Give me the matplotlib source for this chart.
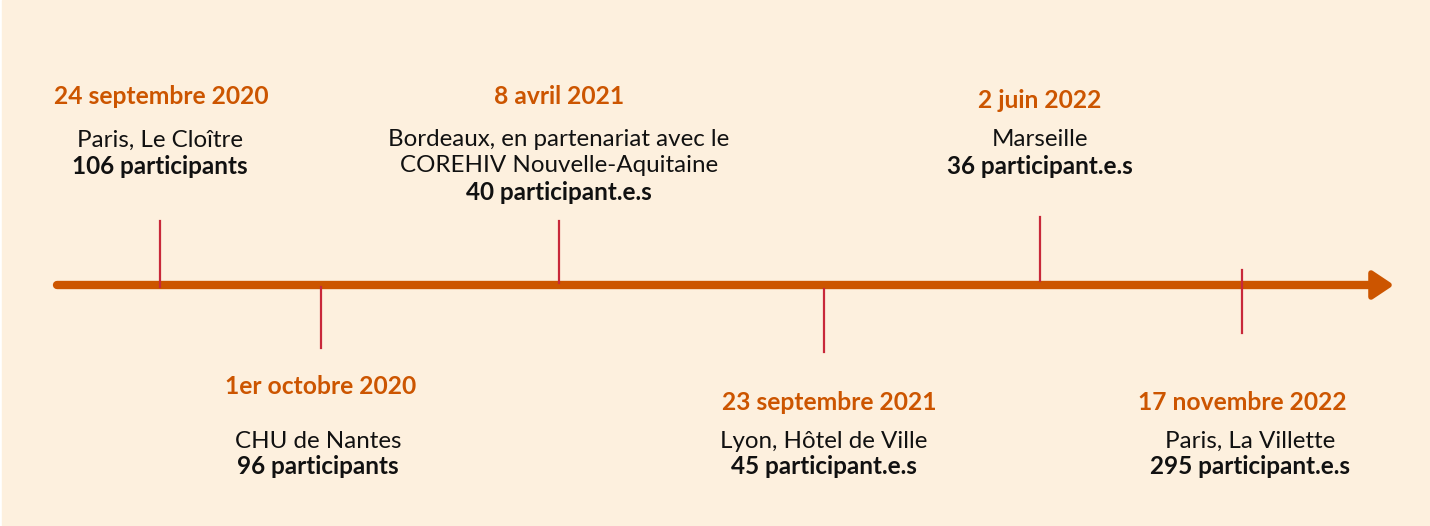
import matplotlib.pyplot as plt
from matplotlib.patches import Polygon, Rectangle

# Events of the timeline
dates = ['24 septembre 2020', '1er octobre 2020', '8 avril 2021',
         '23 septembre 2021', '2 juin 2022', '17 novembre 2022']
places = ['Paris, Le Cloître', 'CHU de Nantes',
          'Bordeaux, en partenariat avec le\nCOREHIV Nouvelle-Aquitaine',
          'Lyon, Hôtel de Ville', 'Marseille', 'Paris, La Villette']
participants = ['106 participants', '96 participants', '40 participant.e.s',
                '45 participant.e.s', '36 participant.e.s', '295 participant.e.s']

# layout (pixels)
x_pos = [160, 321, 559, 824, 1040, 1242]
tick_top = [221, 287, 221, 289, 217, 270]
tick_bot = [287, 348, 283, 352, 281, 333]
date_y = [97, 386, 97, 402, 101, 402]
place_y = [140, 441, 140, 441, 140, 441]
text_dx = [0, -3, 0, 0, 0, 8]
date_dx = [1, 0, 0, 5, 0, 0]

BG = '#fdf0de'
ORANGE = '#cc5500'
RED = '#c8283a'
LINE_H = 26

plt.rcParams['font.family'] = ['Lato', 'DejaVu Sans']

fig = plt.figure(figsize=(14.3, 5.26), dpi=100, facecolor='white')
ax = fig.add_axes([0, 0, 1, 1])
ax.set_xlim(0, 1430)
ax.set_ylim(526, 0)
ax.axis('off')
ax.add_patch(Rectangle((2, 0), 1428, 526, color=BG, zorder=0))

# main arrow
axis_y = 285
ax.plot([57, 1372], [axis_y, axis_y], color=ORANGE, lw=6, solid_capstyle='round', zorder=2)
ax.add_patch(Polygon([[1371, 273], [1389, axis_y], [1371, 297]], closed=True,
                     facecolor=ORANGE, edgecolor=ORANGE, lw=4, joinstyle='round', zorder=2))

for i in range(len(dates)):
    x = x_pos[i]
    ax.plot([x, x], [tick_top[i], tick_bot[i]], color=RED, lw=1.6, zorder=3)
    ax.text(x + date_dx[i], date_y[i], dates[i], color=ORANGE, fontsize=17.7,
            fontweight='bold', ha='center', va='center')
    lines = places[i].split('\n')
    for j, line in enumerate(lines):
        ax.text(x + text_dx[i], place_y[i] + j * LINE_H, line, color='#111111',
                fontsize=17.4, ha='center', va='center')
    ax.text(x + text_dx[i], place_y[i] + len(lines) * LINE_H, participants[i],
            color='#111111', fontsize=17.5, fontweight='bold', ha='center', va='center')

fig.savefig('out.png', dpi=100, facecolor='white')
